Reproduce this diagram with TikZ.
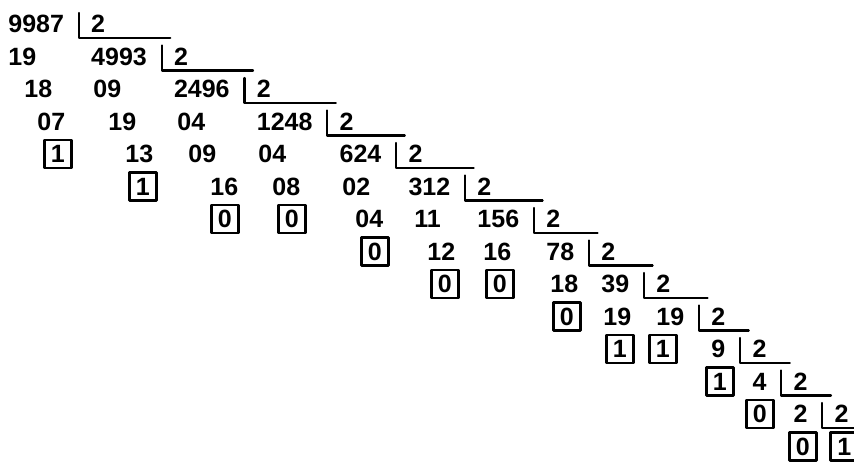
\documentclass[tikz,border=0pt]{standalone}
\usepackage{fontspec}
\setmainfont{Liberation Sans}
\usetikzlibrary{calc,positioning}
\tikzset{
	num/.style={inner sep=0pt, anchor=west, font=\fontsize{12.5pt}{15pt}\selectfont\bfseries},
	rest/.style={num, draw, line width=1.4pt, minimum width=13.5pt, minimum height=14pt},
	bracket/.style={line width=1.1pt},
}
\begin{document}
\begin{tikzpicture}[x=0.5pt, y=-0.5pt, line join=round, line cap=round]
	\def\dy{32.5} \def\yo{24} % khoảng cách hàng, hàng đầu
	\clip (0,0) rectangle (854,461);
	\foreach \k in {0,...,13} \coordinate (y\k) at (0,{\yo+\dy*\k});
	% thương
	\node[num] (q0) at (8,\yo) {9987};
	\foreach \v [count=\k from 1] in {4993,2496,1248,624,312,156,78,39,19,9,4,2} {
		\pgfmathtruncatemacro\p{\k-1}
		\node[num, right=13.2pt of q\p] (d\p) {2};
		\node[num] (q\k) at (d\p.west |- y\k) {\v};
		\draw[bracket] ($(d\p.west)+(-12,-11)$) |- ($(q\k.east)+(23,-18.5)$);
	}
	\node[num, right=13.2pt of q12] (d12) {2};
	\node[rest] (q13) at ($(d12.west |- y13)+(-5,0)$) {1};
	\draw[bracket] ($(d12.west)+(-12,-11)$) |- ($(q13.east)+(23,-18.5)$);
	% số dư
	\foreach \x/\r/\t [count=\i] in {8/1/19, 24/2/18, 37/3/07, 93/2/09, 108/3/19, 125/4/13,
		177/3/04, 188/4/09, 210/5/16, 258/4/04, 272/5/08, 342/5/02, 355/6/04,
		414/6/11, 427/7/12, 483/7/16, 550/8/18, 603/9/19}
		\node[num] (r\i) at (\x,{\yo+\dy*\r}) {\t};
	% số dư cuối (đóng khung)
	\foreach \x/\r/\t [count=\i] in {43/4/1, 128/5/1, 210/6/0, 277/6/0, 360/7/0, 430/8/0, 485/8/0,
		552/9/0, 605/10/1, 648/10/1, 705/11/1, 745/12/0, 788/13/0}
		\node[rest] (b\i) at (\x,{\yo+\dy*\r}) {\t};
\end{tikzpicture}
\end{document}
